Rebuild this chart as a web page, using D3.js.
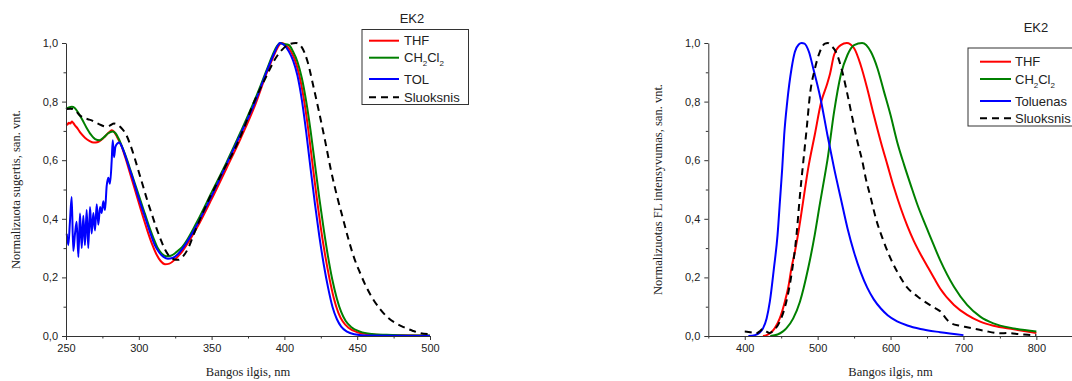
<!DOCTYPE html>
<html><head><meta charset="utf-8">
<script src="https://cdn.jsdelivr.net/npm/d3@7"></script>
<style>
html,body{margin:0;padding:0;background:#fff;}
svg{display:block;}
</style></head>
<body>
<svg id="chart" width="1072" height="381"></svg>
<script>
// ---------- DATA: absorption (left) ----------
const absTHF = [[250,0.72],[251,0.722],[252,0.728],[253,0.725],[254,0.732],[255,0.727],[256,0.72],[258,0.708],[260,0.693],[263,0.677],[266,0.666],[269,0.66],[272,0.662],[275,0.672],[278,0.688],[280,0.697],[281.5,0.702],[283,0.697],[285,0.68],[288,0.65],[291,0.605],[294,0.555],[297,0.505],[300,0.455],[303,0.405],[306,0.358],[309,0.315],[312,0.28],[315,0.256],[318,0.245],[321,0.247],[325,0.262],[330,0.29],[340,0.37],[350,0.467],[360,0.57],[370,0.675],[380,0.79],[388,0.9],[393,0.96],[396,0.99],[398,1.0],[401,0.993],[404,0.975],[407,0.945],[410,0.895],[413,0.82],[416,0.72],[419,0.6],[422,0.48],[425,0.37],[428,0.275],[431,0.195],[434,0.128],[437,0.08],[440,0.05],[444,0.028],[450,0.013],[458,0.006],[470,0.003],[500,0.001]];
const absCH2Cl2 = [[250,0.775],[252,0.78],[254,0.782],[256,0.778],[258,0.765],[261,0.74],[264,0.712],[267,0.688],[270,0.672],[273,0.668],[276,0.678],[279,0.692],[282,0.698],[284,0.692],[286,0.675],[289,0.64],[292,0.6],[295,0.555],[298,0.51],[301,0.465],[304,0.42],[307,0.375],[310,0.335],[313,0.3],[316,0.28],[319,0.272],[322,0.274],[326,0.287],[330,0.305],[340,0.39],[350,0.49],[360,0.59],[370,0.697],[380,0.81],[388,0.91],[392,0.96],[395,0.99],[397,1.0],[399,0.997],[403,0.993],[406,0.97],[409,0.935],[412,0.88],[415,0.8],[418,0.7],[421,0.585],[424,0.47],[427,0.365],[430,0.27],[433,0.19],[436,0.128],[439,0.082],[442,0.052],[446,0.03],[452,0.015],[460,0.007],[470,0.004],[485,0.002],[500,0.002]];
const absTOL = [[250.5,0.349],[251.6,0.31],[252.7,0.389],[253.9,0.474],[255.0,0.29],[256.2,0.35],[257.3,0.39],[258.5,0.27],[259.6,0.418],[260.8,0.30],[261.9,0.41],[263.0,0.31],[264.2,0.43],[265.3,0.30],[266.5,0.44],[267.6,0.35],[268.8,0.42],[269.9,0.36],[271.1,0.45],[272.2,0.38],[273.4,0.44],[274.5,0.42],[275.6,0.46],[276.8,0.43],[277.9,0.51],[279.1,0.54],[280.2,0.52],[281.4,0.60],[282.1,0.668],[283.0,0.61],[283.9,0.645],[285.3,0.657],[286.6,0.66],[288,0.65],[290,0.625],[293,0.58],[296,0.535],[299,0.485],[302,0.44],[305,0.395],[308,0.35],[311,0.31],[314,0.285],[317,0.27],[320,0.264],[323,0.266],[327,0.28],[330,0.298],[340,0.38],[350,0.478],[360,0.583],[370,0.69],[380,0.8],[388,0.905],[393,0.965],[396,0.995],[397,1.0],[400,0.992],[403,0.972],[406,0.94],[409,0.888],[412,0.805],[415,0.695],[418,0.57],[421,0.45],[424,0.34],[427,0.245],[430,0.165],[433,0.1],[436,0.058],[439,0.032],[443,0.015],[448,0.006],[455,0.002],[500,0.0]];
const absFilm = [[250,0.775],[253,0.776],[256,0.772],[259,0.755],[262,0.745],[265,0.74],[268,0.735],[271,0.727],[274,0.72],[277,0.715],[280,0.718],[283,0.725],[285,0.722],[288,0.71],[291,0.69],[294,0.655],[297,0.61],[300,0.56],[303,0.51],[306,0.46],[309,0.415],[312,0.37],[315,0.33],[318,0.295],[321,0.272],[324,0.262],[327,0.26],[330,0.27],[334,0.3],[338,0.35],[343,0.41],[348,0.465],[353,0.515],[358,0.565],[363,0.61],[368,0.66],[373,0.72],[378,0.785],[383,0.84],[388,0.89],[393,0.94],[398,0.975],[403,0.995],[408,1.0],[412,0.985],[416,0.935],[420,0.85],[424,0.76],[428,0.665],[432,0.565],[436,0.48],[440,0.405],[444,0.33],[448,0.265],[452,0.215],[456,0.17],[461,0.125],[466,0.09],[471,0.063],[476,0.045],[482,0.03],[488,0.018],[493,0.01],[500,0.006]];

// ---------- DATA: fluorescence (right) ----------
const flTHF = [[425,0],[430,0.003],[435,0.01],[441,0.026],[448,0.06],[455,0.117],[460,0.17],[464,0.231],[469,0.29],[473,0.345],[480,0.458],[487,0.572],[496,0.686],[505,0.8],[513,0.86],[517,0.895],[522.6,0.96],[531.7,0.993],[540,1.0],[550,0.982],[559,0.925],[568,0.845],[577,0.754],[586.6,0.663],[595.7,0.584],[605,0.504],[614,0.436],[623,0.376],[632,0.324],[641,0.28],[650,0.24],[660,0.196],[668,0.162],[687,0.106],[705,0.072],[723,0.049],[741,0.035],[769,0.023],[800,0.01]];
const flCH2Cl2 = [[435,0],[445,0.005],[452,0.015],[457,0.026],[466.5,0.06],[475.7,0.117],[487,0.231],[496,0.345],[503,0.45],[510,0.55],[513.4,0.6],[522.6,0.766],[531.7,0.891],[541,0.96],[550,0.993],[561,1.0],[573,0.97],[582,0.914],[591,0.834],[600,0.754],[609,0.663],[618.6,0.584],[627.7,0.515],[637,0.447],[646,0.39],[655,0.336],[668,0.259],[687,0.168],[705,0.106],[723,0.066],[741,0.043],[769,0.026],[800,0.015]];
const flTOL = [[405,0],[414,0.003],[420,0.01],[425,0.026],[430,0.06],[434.4,0.117],[440,0.231],[445,0.345],[448.2,0.458],[451.4,0.572],[454.1,0.686],[458.3,0.8],[464.2,0.913],[468.8,0.97],[474,0.995],[478,1.0],[482,0.998],[488,0.97],[494,0.913],[504,0.81],[513.4,0.686],[522.6,0.572],[531.7,0.47],[541,0.367],[550,0.285],[559,0.218],[568,0.165],[577,0.125],[587,0.093],[596,0.071],[609,0.05],[623,0.036],[641,0.024],[668,0.013],[700,0.003]];
const flFilm = [[400,0.015],[405,0.014],[410,0.012],[415,0.008],[420,0.015],[425,0.024],[430,0.015],[434,0.01],[440,0.02],[448,0.049],[457,0.117],[464,0.208],[471,0.345],[475.7,0.48],[480.3,0.595],[485,0.709],[489.4,0.823],[496.3,0.913],[503,0.97],[510,0.998],[514,1.0],[519,0.99],[525,0.97],[534,0.9],[541,0.823],[547.7,0.743],[554.6,0.663],[561.4,0.595],[566,0.538],[573,0.47],[580,0.40],[589,0.333],[598,0.276],[609,0.22],[623,0.165],[637,0.135],[650,0.112],[660,0.097],[670,0.08],[676,0.06],[682,0.045],[695,0.035],[705,0.03],[728,0.018],[751,0.009],[760,0.01],[778,0.006],[796,0.003],[800,0.003]];

// ---------- ticks / labels ----------
const absXTicks = [250,300,350,400,450,500];
const absXMinor = [275,325,375,425,475];
const flXTicks = [400,500,600,700,800];
const flXMinor = [350,450,550,650,750,850];
const yTicks = [0,0.2,0.4,0.6,0.8,1.0];
const yMinor = [0.1,0.3,0.5,0.7,0.9];
const yTickLabels = ["0,0","0,2","0,4","0,6","0,8","1,0"];
const legendTitle = "EK2";
const absLegend = ["THF","CH2Cl2","TOL","Sluoksnis"];
const flLegend = ["THF","CH2Cl2","Toluenas","Sluoksnis"];
const seriesColors = ["#ff0000","#008000","#0000ff","#000000"];
const xTitle = "Bangos ilgis, nm";
const absYTitle = "Normalizuota sugertis, san. vnt.";
const flYTitle = "Normalizuotas FL intensyvumas, san. vnt.";

const svg = d3.select("#chart");
const tickFont = "'Liberation Sans', Arial, sans-serif";
const serif = "'Liberation Serif', 'Times New Roman', serif";

function panel(cfg){
  const g = svg.append("g");
  const x = d3.scaleLinear().domain(cfg.xDomain).range(cfg.xRange);
  const y = d3.scaleLinear().domain([0,1]).range([336,43]);
  const line = d3.line().x(d=>x(d[0])).y(d=>y(d[1])).curve(d3.curveMonotoneX);

  cfg.series.forEach((s,i)=>{
    g.append("path").datum(s).attr("d",line)
      .attr("fill","none").attr("stroke",seriesColors[i])
      .attr("stroke-width",2).attr("stroke-linejoin","round")
      .attr("stroke-dasharray", i===3 ? "7,5" : null);
  });

  g.append("g").attr("transform","translate(0,336)")
    .call(d3.axisBottom(x).tickValues(cfg.xTicks).tickSize(4).tickSizeOuter(0).tickPadding(4).tickFormat(d3.format("d")));
  g.append("g").attr("transform","translate(0,336)")
    .call(d3.axisBottom(x).tickValues(cfg.xMinor).tickSize(2.5).tickSizeOuter(0).tickFormat(""))
    .select(".domain").remove();
  g.append("g").attr("transform",`translate(${cfg.xRange[0]},0)`)
    .call(d3.axisLeft(y).tickValues(yTicks).tickSize(4).tickSizeOuter(0).tickPadding(4).tickFormat((d,i)=>yTickLabels[i]));
  g.append("g").attr("transform",`translate(${cfg.xRange[0]},0)`)
    .call(d3.axisLeft(y).tickValues(yMinor).tickSize(2.5).tickSizeOuter(0).tickFormat(""))
    .select(".domain").remove();
  g.selectAll(".domain, .tick line").attr("stroke","#333").attr("stroke-width",1);
  g.selectAll(".tick text").attr("font-family",tickFont).attr("font-size",11).attr("fill","#222");

  g.append("text").attr("x",(cfg.xRange[0]+cfg.xRange[1])/2).attr("y",376)
    .attr("text-anchor","middle").attr("font-family",serif).attr("font-size",12.5).attr("fill","#222").text(xTitle);
  g.append("text").attr("transform",`translate(${cfg.yTitleX},189.5) rotate(-90)`)
    .attr("text-anchor","middle").attr("font-family",serif).attr("font-size",12.5).attr("fill","#222").text(cfg.yTitle);

  const L = cfg.legend;
  g.append("text").attr("x",L.titleX).attr("y",L.titleY).attr("text-anchor","middle")
    .attr("font-family",tickFont).attr("font-size",13).attr("fill","#222").text(legendTitle);
  g.append("rect").attr("x",L.x).attr("y",L.y).attr("width",L.w).attr("height",L.h)
    .attr("fill","#fff").attr("stroke","#333").attr("stroke-width",1);
  cfg.legendLabels.forEach((lab,i)=>{
    const yy = L.rows[i];
    g.append("line").attr("x1",L.lx1).attr("x2",L.lx2).attr("y1",yy).attr("y2",yy)
      .attr("stroke",seriesColors[i]).attr("stroke-width",2)
      .attr("stroke-dasharray", i===3 ? "7,5" : null);
    const t = g.append("text").attr("x",L.tx).attr("y",yy+4.6)
      .attr("font-family",tickFont).attr("font-size",13).attr("fill","#222");
    if(lab==="CH2Cl2"){
      t.append("tspan").text("CH");
      t.append("tspan").attr("font-size",8).attr("dy",4).text("2");
      t.append("tspan").attr("dy",-4).text("Cl");
      t.append("tspan").attr("font-size",8).attr("dy",4).text("2");
    } else t.text(lab);
  });
}

panel({
  xDomain:[250,500], xRange:[66,430], xTicks:absXTicks, xMinor:absXMinor,
  series:[absTHF,absCH2Cl2,absTOL,absFilm], yTitle:absYTitle, yTitleX:20,
  legendLabels:absLegend,
  legend:{titleX:412,titleY:23,x:362,y:29.5,w:106.5,h:75,lx1:369,lx2:399,tx:404,rows:[40.7,57.7,79,97.3]}
});
panel({
  xDomain:[350,850], xRange:[708.3,1072.8], xTicks:flXTicks, xMinor:flXMinor,
  series:[flTHF,flCH2Cl2,flTOL,flFilm], yTitle:flYTitle, yTitleX:662,
  legendLabels:flLegend,
  legend:{titleX:1036,titleY:32,x:968,y:48,w:120,h:78,lx1:980,lx2:1011,tx:1015,rows:[61.7,79,101,118.3]}
});
</script>
</body></html>
